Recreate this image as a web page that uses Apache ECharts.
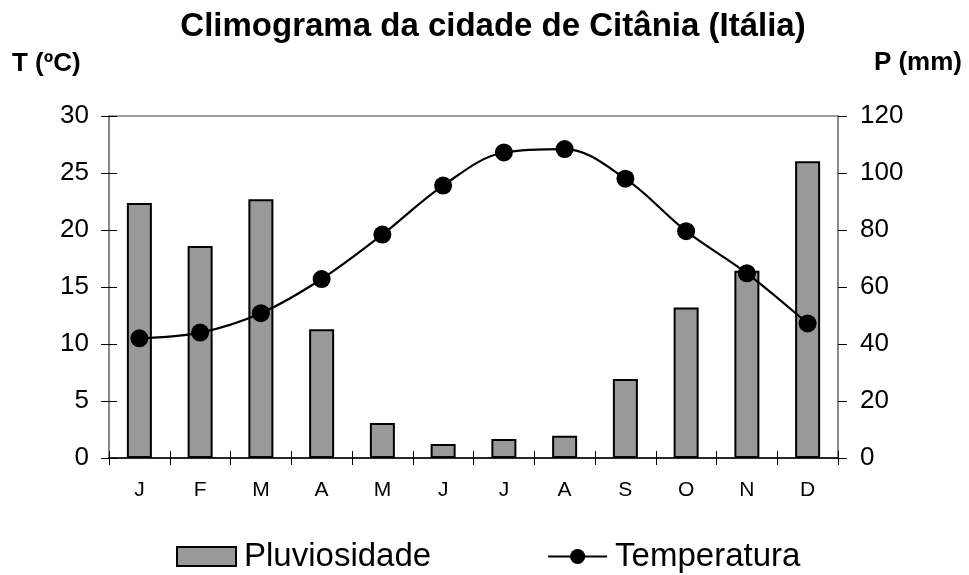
<!DOCTYPE html>
<html><head><meta charset="utf-8">
<script src="https://cdn.jsdelivr.net/npm/echarts@6/dist/echarts.min.js"></script>
<style>html,body{margin:0;padding:0;background:#fff}#c{width:969px;height:575px}</style>
</head><body><div id="c"></div>
<script>
const months = ['J','F','M','A','M','J','J','A','S','O','N','D'];
const precipitation = [89.5, 74.4, 90.8, 45.2, 12.3, 4.9, 6.7, 7.8, 27.7, 52.8, 65.7, 104.1];
const temperature = [10.5, 11.0, 12.7, 15.7, 19.6, 23.9, 26.8, 27.1, 24.5, 19.9, 16.2, 11.8];
const tempTicks = [0, 5, 10, 15, 20, 25, 30];
const precTicks = [0, 20, 40, 60, 80, 100, 120];

const FONT = '"Liberation Sans", Arial, sans-serif';
const chart = echarts.init(document.getElementById('c'), null, {renderer: 'canvas'});
chart.setOption({
  backgroundColor: '#fff',
  animation: false,
  graphic: [
    {type: 'text', x: 493, y: 27, style: {text: 'Climograma da cidade de Citânia (Itália)', font: 'bold 33px ' + FONT, fill: '#000', textAlign: 'center', textVerticalAlign: 'middle'}},
    {type: 'text', x: 12, y: 64, style: {text: 'T (ºC)', font: 'bold 26px ' + FONT, fill: '#000', textAlign: 'left', textVerticalAlign: 'middle'}},
    {type: 'text', x: 962, y: 63, style: {text: 'P (mm)', font: 'bold 26px ' + FONT, fill: '#000', textAlign: 'right', textVerticalAlign: 'middle'}}
  ],
  grid: {left: 109, right: 131, top: 116, bottom: 117, show: true, borderColor: '#808080', borderWidth: 1.5},
  legend: {
    left: 176, top: 540, padding: 0, itemWidth: 59, itemHeight: 19, itemGap: 116,
    textStyle: {fontFamily: FONT, fontSize: 33, color: '#000', padding: [0,0,0,3]},
    data: [
      {name: 'Pluviosidade', icon: 'rect'},
      {name: 'Temperatura'}
    ]
  },
  xAxis: [
    {
      type: 'category', data: months, position: 'bottom',
      axisLine: {lineStyle: {color: '#000', width: 1.5}},
      axisTick: {show: true, length: 7, lineStyle: {color: '#000', width: 1}},
      axisLabel: {fontFamily: FONT, fontSize: 21, color: '#000', margin: 22},
      splitLine: {show: false}
    },
    {
      type: 'category', data: months, position: 'bottom',
      axisLine: {show: false},
      axisTick: {show: true, inside: true, length: 7, lineStyle: {color: '#000', width: 1}},
      axisLabel: {show: false}, splitLine: {show: false}
    }
  ],
  yAxis: [
    {
      type: 'value', position: 'left', min: tempTicks[0], max: tempTicks[tempTicks.length-1], interval: 5,
      axisLine: {show: true, lineStyle: {color: '#808080', width: 1.5}},
      axisTick: {show: true, length: 8, lineStyle: {color: '#000', width: 1}},
      axisLabel: {fontFamily: FONT, fontSize: 26, color: '#000', margin: 20},
      splitLine: {show: false}
    },
    {
      type: 'value', position: 'right', min: precTicks[0], max: precTicks[precTicks.length-1], interval: 20,
      axisLine: {show: true, lineStyle: {color: '#808080', width: 1.5}},
      axisTick: {show: true, length: 9, lineStyle: {color: '#000', width: 1}},
      axisLabel: {fontFamily: FONT, fontSize: 26, color: '#000', margin: 22},
      splitLine: {show: false}
    },
    {
      type: 'value', position: 'left', offset: 0, min: tempTicks[0], max: tempTicks[tempTicks.length-1], interval: 5,
      axisLine: {show: false},
      axisTick: {show: true, inside: true, length: 8, lineStyle: {color: '#000', width: 1}},
      axisLabel: {show: false}, splitLine: {show: false}
    }
  ],
  series: [
    {
      name: 'Pluviosidade', type: 'bar', yAxisIndex: 1, xAxisIndex: 0, data: precipitation,
      barWidth: 25,
      itemStyle: {color: '#999999', borderColor: '#000', borderWidth: 2}
    },
    {
      name: 'Temperatura', type: 'line', yAxisIndex: 0, xAxisIndex: 0, data: temperature,
      smooth: 0.35, symbol: 'circle', symbolSize: 18,
      lineStyle: {color: '#000', width: 2.2},
      itemStyle: {color: '#000'}
    }
  ]
});
</script></body></html>
